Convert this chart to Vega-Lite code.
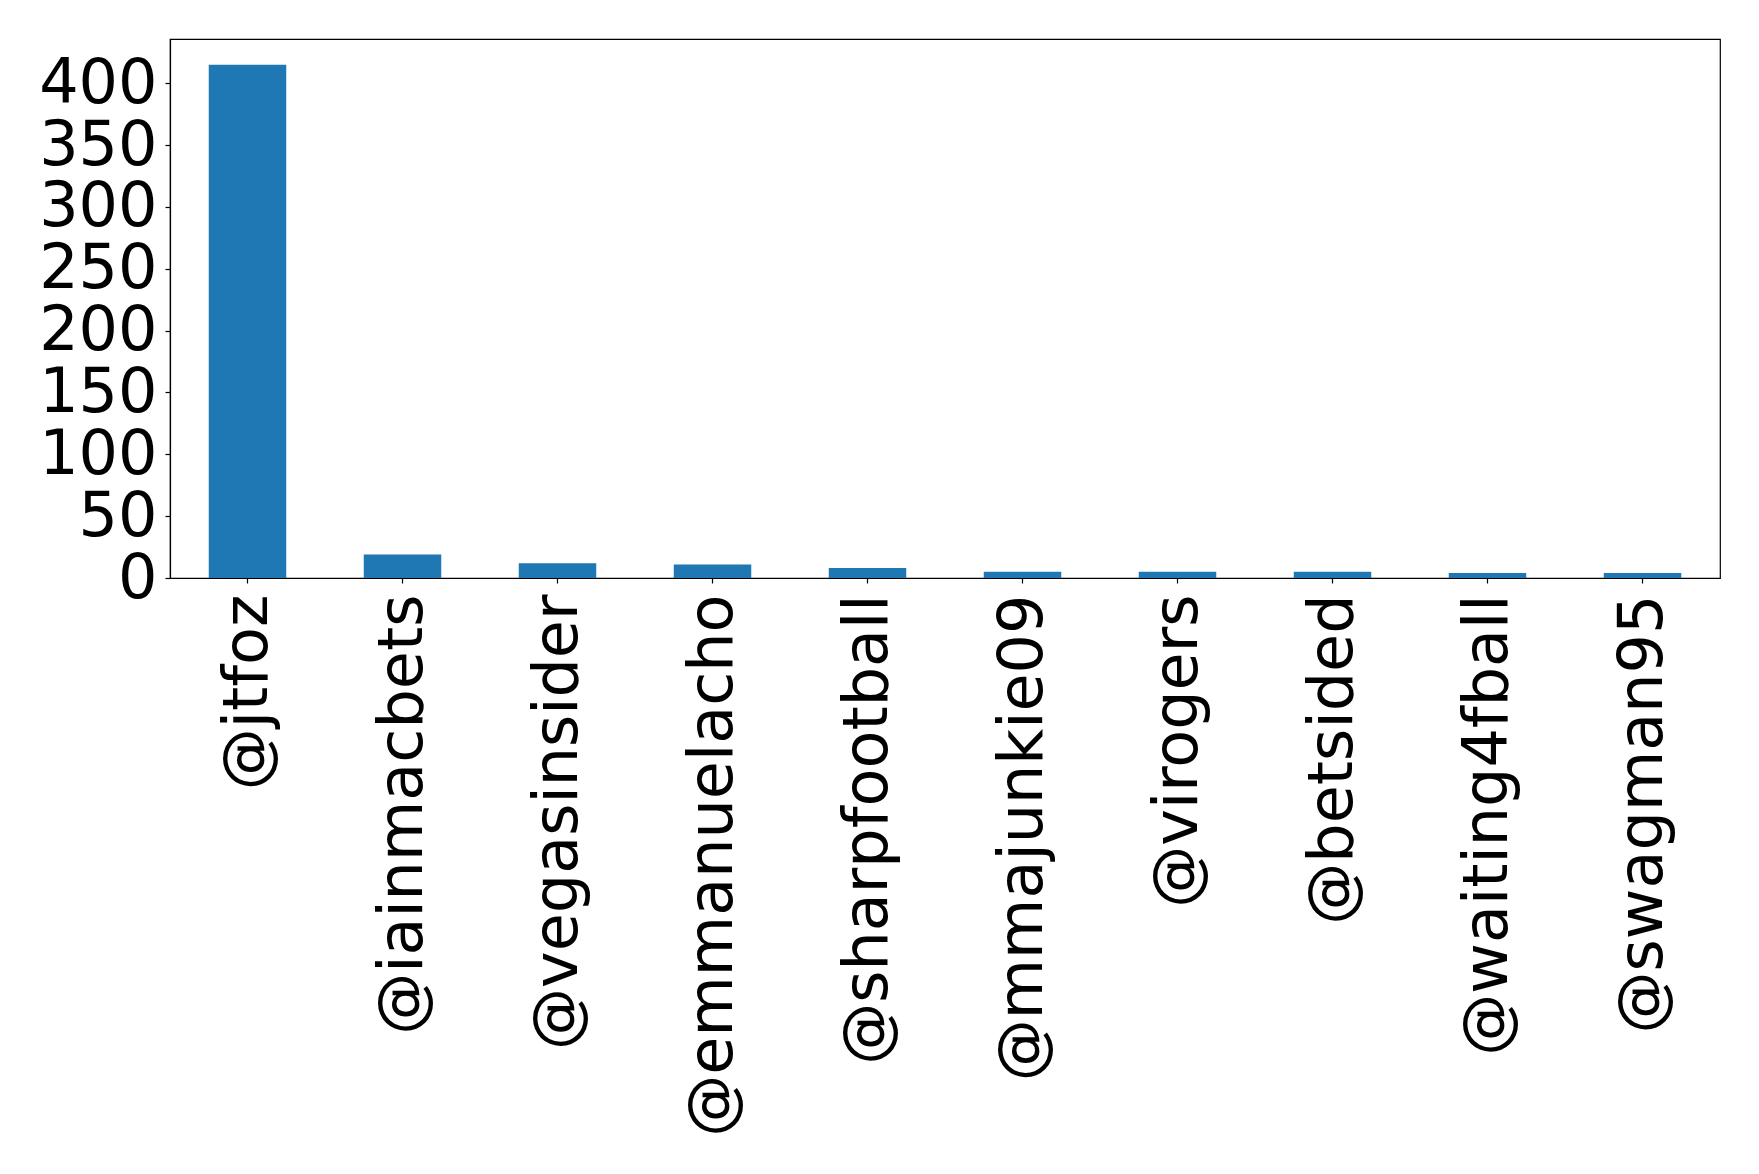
{
  "$schema": "https://vega.github.io/schema/vega-lite/v6.json",
  "autosize": "none",
  "width": 1550,
  "height": 539,
  "padding": {"left": 170, "top": 39, "right": 39, "bottom": 596},
  "background": "white",
  "config": {
    "font": "DejaVu Sans",
    "view": {"stroke": "black", "strokeWidth": 1.2},
    "axis": {"grid": false, "domainColor": "black", "domainWidth": 1.2, "tickColor": "black", "tickWidth": 1.2, "tickSize": 5, "labelColor": "black", "labelFont": "DejaVu Sans", "labelFontSize": 62, "labelLimit": 0, "labelOverlap": false, "title": null}
  },
  "data": {"values": [
    {"user": "@jtfoz", "count": 415},
    {"user": "@iainmacbets", "count": 19},
    {"user": "@vegasinsider", "count": 12},
    {"user": "@emmanuelacho", "count": 11},
    {"user": "@sharpfootball", "count": 8},
    {"user": "@mmajunkie09", "count": 5},
    {"user": "@virogers", "count": 5},
    {"user": "@betsided", "count": 5},
    {"user": "@waiting4fball", "count": 4},
    {"user": "@swagman95", "count": 4}
  ]},
  "mark": {"type": "bar", "color": "#1f77b4"},
  "encoding": {
    "x": {"field": "user", "type": "nominal", "sort": null,
      "scale": {"paddingInner": 0.5, "paddingOuter": 0.25},
      "axis": {"labelAngle": -90, "labelAlign": "right", "labelBaseline": "middle", "labelPadding": 11, "labelLimit": 0}},
    "y": {"field": "count", "type": "quantitative",
      "scale": {"domain": [0, 435.75], "nice": false, "zero": true},
      "axis": {"values": [0, 50, 100, 150, 200, 250, 300, 350, 400], "labelPadding": 8, "labelBaseline": "middle"}}
  }
}
